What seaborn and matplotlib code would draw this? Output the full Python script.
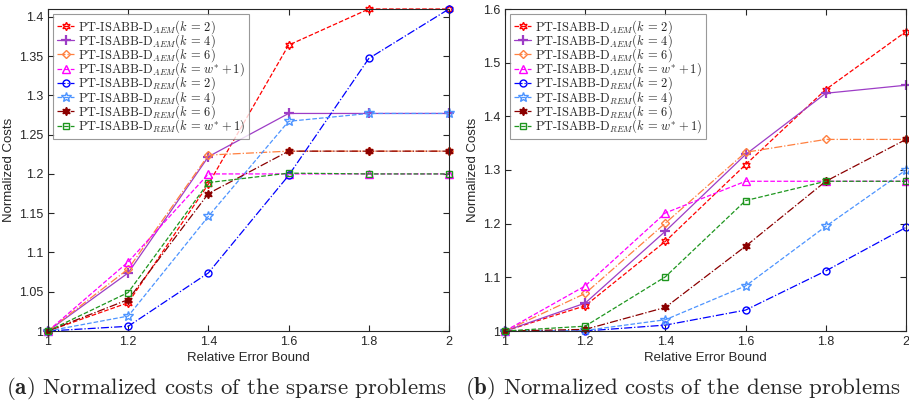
import matplotlib
matplotlib.use('Agg')
import matplotlib.pyplot as plt
import seaborn as sns
import numpy as np

# error bounds
bounds = [1.0, 1.2, 1.4, 1.6, 1.8, 2.0]

# sparse problems
sparse_aem_k2 = [1.0, 1.036, 1.187, 1.364, 1.41, 1.41]
sparse_aem_k4 = [1.0, 1.074, 1.222, 1.277, 1.277, 1.277]
sparse_aem_k6 = [1.0, 1.079, 1.224, 1.229, 1.229, 1.229]
sparse_aem_kw = [1.0, 1.088, 1.200, 1.200, 1.200, 1.200]
sparse_rem_k2 = [1.0, 1.006, 1.074, 1.198, 1.347, 1.41]
sparse_rem_k4 = [1.0, 1.019, 1.146, 1.267, 1.277, 1.277]
sparse_rem_k6 = [1.0, 1.040, 1.175, 1.229, 1.229, 1.229]
sparse_rem_kw = [1.0, 1.049, 1.189, 1.201, 1.200, 1.200]

# dense problems
dense_aem_k2 = [1.0, 1.047, 1.167, 1.310, 1.450, 1.558]
dense_aem_k4 = [1.0, 1.052, 1.186, 1.329, 1.443, 1.458]
dense_aem_k6 = [1.0, 1.070, 1.201, 1.333, 1.357, 1.357]
dense_aem_kw = [1.0, 1.084, 1.220, 1.279, 1.279, 1.279]
dense_rem_k2 = [1.0, 1.000, 1.011, 1.039, 1.112, 1.193]
dense_rem_k4 = [1.0, 1.001, 1.021, 1.084, 1.195, 1.300]
dense_rem_k6 = [1.0, 1.003, 1.044, 1.158, 1.279, 1.357]
dense_rem_kw = [1.0, 1.009, 1.101, 1.243, 1.279, 1.279]

labels = [
    r'PT-ISABB-D$_{AEM}(k\,=\,2)$',
    r'PT-ISABB-D$_{AEM}(k\,=\,4)$',
    r'PT-ISABB-D$_{AEM}(k\,=\,6)$',
    r'PT-ISABB-D$_{AEM}(k\,=\,w^{*}+1)$',
    r'PT-ISABB-D$_{REM}(k\,=\,2)$',
    r'PT-ISABB-D$_{REM}(k\,=\,4)$',
    r'PT-ISABB-D$_{REM}(k\,=\,6)$',
    r'PT-ISABB-D$_{REM}(k\,=\,w^{*}+1)$',
]

hexagram = (6, 1, 0)
styles = [
    dict(color='#ff0000', linestyle='--', marker=hexagram, mfc='none', ms=6),
    dict(color='#9d3dc6', linestyle='-', marker='+', mfc='none', ms=7, mew=1.6),
    dict(color='#ff8040', linestyle='-.', marker='D', mfc='none', ms=4.5),
    dict(color='#ff00ff', linestyle='--', marker='^', mfc='none', ms=6),
    dict(color='#0000ff', linestyle='-.', marker='o', mfc='none', ms=5),
    dict(color='#4d94ff', linestyle='--', marker='*', mfc='none', ms=7),
    dict(color='#8b0000', linestyle='-.', marker=hexagram, mfc='#8b0000', ms=6),
    dict(color='#1e961e', linestyle='--', marker='s', mfc='none', ms=4.5),
]

sns.set_style('ticks')
plt.rcParams['font.family'] = ['Liberation Sans', 'DejaVu Sans']
plt.rcParams['mathtext.fontset'] = 'cm'

fig = plt.figure(figsize=(9.09, 4.04), dpi=100)
ax1 = fig.add_axes([48 / 909, 73 / 404, 401 / 909, 322 / 404])
ax2 = fig.add_axes([505 / 909, 73 / 404, 401 / 909, 322 / 404])

sparse = [sparse_aem_k2, sparse_aem_k4, sparse_aem_k6, sparse_aem_kw,
          sparse_rem_k2, sparse_rem_k4, sparse_rem_k6, sparse_rem_kw]
dense = [dense_aem_k2, dense_aem_k4, dense_aem_k6, dense_aem_kw,
         dense_rem_k2, dense_rem_k4, dense_rem_k6, dense_rem_kw]

for ax, data, ylim, yticks in [
        (ax1, sparse, (1.0, 1.41), [1, 1.05, 1.1, 1.15, 1.2, 1.25, 1.3, 1.35, 1.4]),
        (ax2, dense, (1.0, 1.6), [1, 1.1, 1.2, 1.3, 1.4, 1.5, 1.6])]:
    for vals, lab, st in zip(data, labels, styles):
        st = dict(st)
        sns.lineplot(x=bounds, y=vals, ax=ax, label=lab, lw=0.9,
                     color=st.pop('color'), linestyle=st.pop('linestyle'),
                     marker=st.pop('marker'), markerfacecolor=st.pop('mfc'),
                     markeredgecolor=None, markersize=st.pop('ms'),
                     markeredgewidth=st.pop('mew', 1.0), clip_on=False)
    for line in ax.get_lines():
        line.set_markeredgecolor(line.get_color())
    ax.set_xlim(1, 2)
    ax.set_ylim(*ylim)
    ax.set_xticks(bounds)
    ax.set_xticklabels(['%g' % b for b in bounds])
    ax.set_yticks(yticks)
    ax.set_yticklabels(['%g' % t for t in yticks])
    ax.tick_params(direction='in', top=True, right=True, labelsize=9, length=4, width=0.8)
    for s in ax.spines.values():
        s.set_visible(True)
        s.set_linewidth(0.8)
    ax.set_xlabel('Relative Error Bound', fontsize=9.5, labelpad=3)
    ax.set_ylabel('Normalized Costs', fontsize=9.5, labelpad=3)
    leg = ax.legend(loc='upper left', prop={'family': 'cmr10', 'size': 9},
                    frameon=True, fancybox=False, edgecolor='#808080',
                    handlelength=1.4, handletextpad=0.3, labelspacing=-0.28,
                    borderpad=0.3, borderaxespad=0.4)
    leg.get_frame().set_linewidth(0.8)

fig.text(226 / 909, 10 / 404, r'$\mathbf{(a)}$ Normalized costs of the sparse problems',
         ha='center', va='baseline', fontsize=16.5, family='cmr10')
fig.text(683 / 909, 10 / 404, r'$\mathbf{(b)}$ Normalized costs of the dense problems',
         ha='center', va='baseline', fontsize=16.5, family='cmr10')

fig.savefig('out.png', dpi=100)
